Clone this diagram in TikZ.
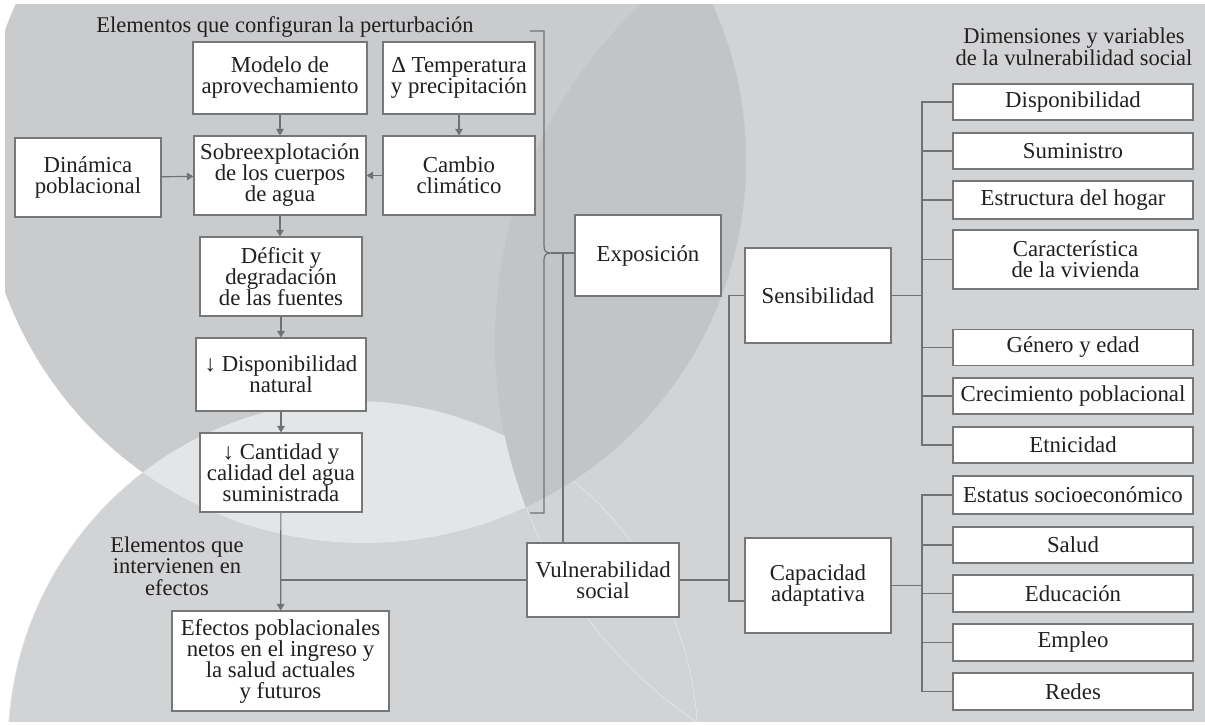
\documentclass[tikz,border=0pt]{standalone}
\usepackage{fontspec}
\setmainfont{Liberation Serif}
\usetikzlibrary{arrows.meta,calc}
\definecolor{bgL}{RGB}{210,211,213}
\definecolor{bgM}{RGB}{202,203,205}
\definecolor{bgD}{RGB}{195,196,198}
\definecolor{bgLens}{RGB}{228,229,231}
\definecolor{bgEdge}{RGB}{232,233,235}
\definecolor{linegray}{RGB}{112,113,115}
\definecolor{bordergray}{RGB}{118,119,121}
\definecolor{textcol}{RGB}{35,31,32}
\newcommand{\boxfont}{\fontsize{22.8}{21}\selectfont}
\newcommand{\titlefont}{\fontsize{22.5}{19.5}\selectfont}
\begin{document}
\begin{tikzpicture}[x=1pt,y=-1pt,
  box/.style={draw=bordergray, line width=1.1pt, fill=white, align=center, inner sep=0pt, font=\boxfont, text=textcol},
  conn/.style={draw=linegray, line width=1.2pt},
  arr/.style={conn, -{Triangle[length=6.5pt,width=7.5pt]}},
  lbl/.style={align=center, inner sep=0pt, text=textcol}]
\useasboundingbox (0,0) rectangle (1205,724);
% background circles
\begin{scope}
  \clip (5,4) rectangle (1205,721);
  \fill[bgL] (956,341) circle[radius=461pt];
  \fill[bgL] (353,746) circle[radius=345pt];
  \draw[bgEdge, line width=0.5pt] (956,341) circle[radius=461pt];
  \draw[bgEdge, line width=0.5pt] (353,746) circle[radius=345pt];
  \fill[bgM] (364,161) circle[radius=382pt];
  \begin{scope}
    \clip (364,161) circle[radius=382pt];
    \fill[bgLens] (353,746) circle[radius=345pt];
    \fill[bgD] (956,341) circle[radius=461pt];
  \end{scope}
\end{scope}
% titles
\node[lbl, font=\titlefont, anchor=base] (t1) at (285,32) {Elementos que configuran la perturbación};
\node[lbl, font=\titlefont] (t2) at (1074,47) {Dimensiones y variables\\de la vulnerabilidad social};
\node[lbl, font=\fontsize{22.5}{21.5}\selectfont] (t3) at (177,566) {Elementos que\\intervienen en\\efectos};
% left boxes
\node[box, minimum width=174pt, minimum height=72pt] (mod) at (280,78) {Modelo de\\aprovechamiento};
\node[box, minimum width=152pt, minimum height=72pt] (tem) at (459,78) {Δ Temperatura\\y precipitación};
\node[box, minimum width=146pt, minimum height=79pt] (din) at (88,177.5) {Dinámica\\poblacional};
\node[box, minimum width=172pt, minimum height=79pt] (sob) at (280,175.5) {Sobreexplotación\\de los cuerpos\\de agua};
\node[box, minimum width=152pt, minimum height=79pt] (cam) at (459,175.5) {Cambio\\climático};
\node[box, minimum width=162pt, minimum height=79pt] (def) at (281,276.5) {Déficit y\\degradación\\de las fuentes};
\node[box, minimum width=170pt, minimum height=73pt] (dis) at (281,374.5) {↓ Disponibilidad\\natural};
\node[box, minimum width=162pt, minimum height=79pt] (can) at (281,472.5) {↓ Cantidad y\\calidad del agua\\suministrada};
\node[box, minimum width=217pt, minimum height=100pt] (efe) at (280.5,661) {Efectos poblacionales\\netos en el ingreso y\\la salud actuales\\y futuros};
% middle boxes
\node[box, minimum width=146pt, minimum height=81pt] (exp) at (648,255.5) {Exposición};
\node[box, minimum width=152pt, minimum height=74pt] (vul) at (603,580) {Vulnerabilidad\\social};
\node[box, minimum width=146pt, minimum height=95pt] (sen) at (818,295.5) {Sensibilidad};
\node[box, minimum width=146pt, minimum height=95pt] (cap) at (818,585.5) {Capacidad\\adaptativa};
% right boxes
\node[box, minimum width=240pt, minimum height=36pt] (r1) at (1073,102) {Disponibilidad};
\node[box, minimum width=240pt, minimum height=36pt] (r2) at (1073,151) {Suministro};
\node[box, minimum width=240pt, minimum height=38pt] (r3) at (1073,200) {Estructura del hogar};
\node[box, minimum width=245pt, minimum height=59pt] (r4) at (1075.5,259.5) {Característica\\de la vivienda};
\node[box, minimum width=240pt, minimum height=36pt] (r5) at (1073,347.5) {Género y edad};
\node[box, minimum width=240pt, minimum height=36pt] (r6) at (1073,396) {Crecimiento poblacional};
\node[box, minimum width=240pt, minimum height=36pt] (r7) at (1073,445) {Etnicidad};
\node[box, minimum width=240pt, minimum height=38pt] (r8) at (1073,495) {Estatus socioeconómico};
\node[box, minimum width=240pt, minimum height=36pt] (r9) at (1073,545) {Salud};
\node[box, minimum width=240pt, minimum height=37pt] (r10) at (1073,593.5) {Educación};
\node[box, minimum width=240pt, minimum height=37pt] (r11) at (1073,642.5) {Empleo};
\node[box, minimum width=240pt, minimum height=37pt] (r12) at (1073,691.5) {Redes};
% arrows in left chain
\draw[arr] (mod) -- (sob);
\draw[arr] (tem) -- (cam);
\draw[arr] (din) -- (sob);
\draw[arr] (cam) -- (sob);
\draw[arr] (sob.south) -- (def.north -| sob.south);
\draw[arr] (def) -- (dis);
\draw[arr] (dis) -- (can);
\draw[arr] (can) -- (efe);
% bracket to Exposicion
\coordinate (tip) at (551,253);
\coordinate (vt) at (563,253);
\draw[conn, line join=round] (530,31) -- (544,31) -- (544,246)
  .. controls (544,251) and (546,253) .. (tip)
  .. controls (546,253) and (544,255) .. (544,260) -- (544,513) -- (530,513);
\draw[conn] (tip) -- (tip -| exp.west);
\draw[conn] (vt) -- (vt |- vul.north);
\draw[conn] (vul.west) -- (vul.west -| can.south);
% sensibilidad / capacidad
\coordinate (lv) at (729,0);
\coordinate (capin) at ($(cap.west)+(0,15.5)$);
\draw[conn] (vul.east) -- (vul.east -| lv);
\draw[conn] (sen.west) -- (sen.west -| lv) -- (capin -| lv) -- (capin);
% right trees
\coordinate (rv) at (922,0);
\draw[conn] (sen.east) -- (sen.east -| rv);
\draw[conn] (r1.west) -- (r1.west -| rv) -- (r7.west -| rv) -- (r7.west);
\foreach \n in {r2,r3,r4,r5,r6} \draw[conn] (\n.west -| rv) -- (\n.west);
\draw[conn] (cap.east) -- (cap.east -| rv);
\draw[conn] (r8.west) -- (r8.west -| rv) -- (r12.west -| rv) -- (r12.west);
\foreach \n in {r9,r10,r11} \draw[conn] (\n.west -| rv) -- (\n.west);
\end{tikzpicture}
\end{document}
